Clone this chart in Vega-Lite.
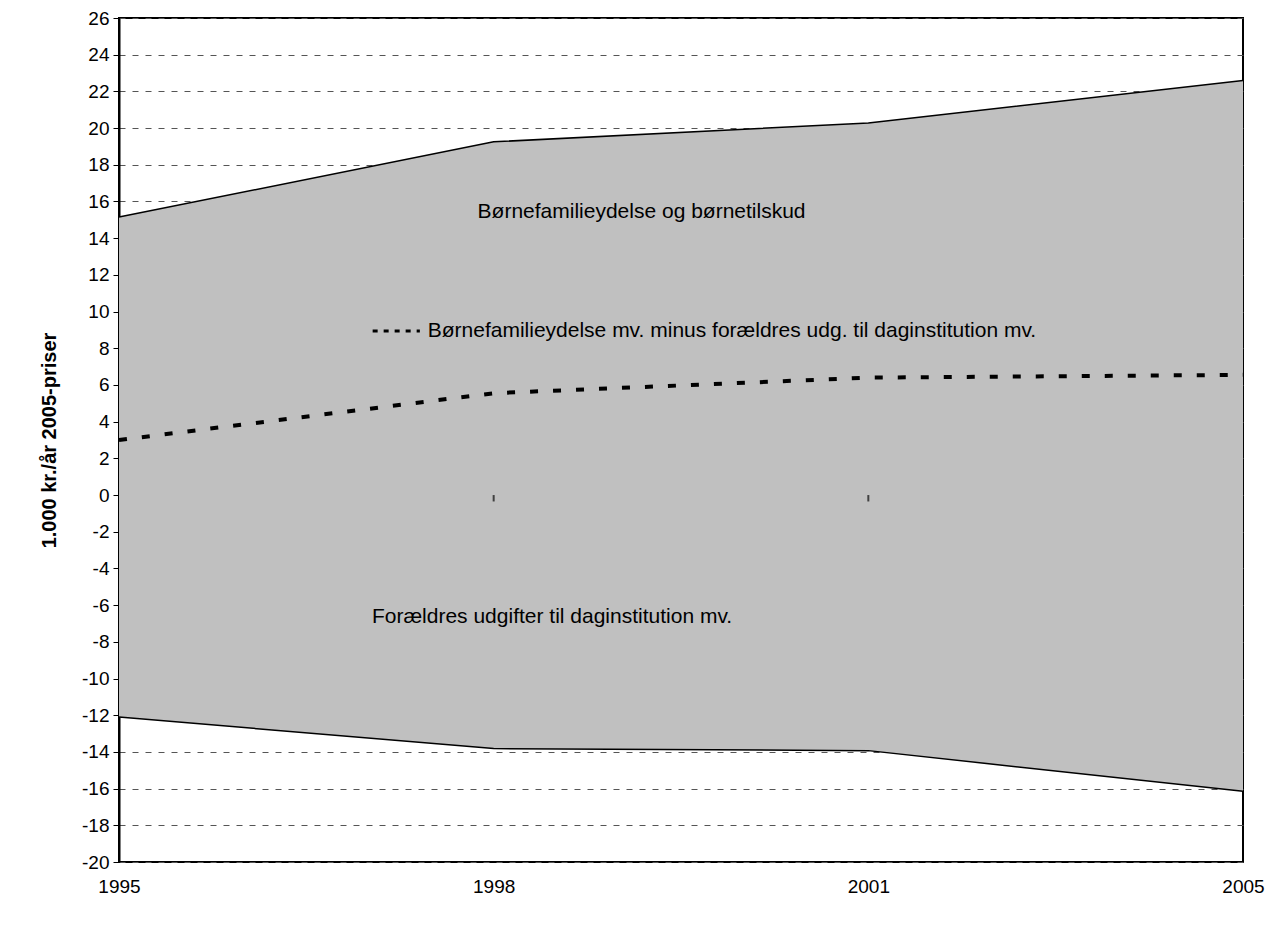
{
  "$schema": "https://vega.github.io/schema/vega-lite/v6.json",
  "autosize": "none",
  "width": 1124,
  "height": 844,
  "padding": {"left": 119, "top": 18, "right": 25, "bottom": 65},
  "background": "white",
  "config": {
    "font": "Liberation Sans",
    "view": {"stroke": "black", "strokeWidth": 2}
  },
  "datasets": {
    "series": [
      {"idx": 0, "year": "1995", "upper": 15.15, "lower": -12.1, "net": 3.0},
      {"idx": 1, "year": "1998", "upper": 19.25, "lower": -13.82, "net": 5.55},
      {"idx": 2, "year": "2001", "upper": 20.28, "lower": -13.93, "net": 6.4},
      {"idx": 3, "year": "2005", "upper": 22.6, "lower": -16.15, "net": 6.55}
    ],
    "labels": [
      {"x": 0.957, "y": 15.4, "text": "Børnefamilieydelse og børnetilskud"},
      {"x": 0.824, "y": 8.94, "text": "Børnefamilieydelse mv. minus forældres udg. til daginstitution mv."},
      {"x": 0.675, "y": -6.65, "text": "Forældres udgifter til daginstitution mv."}
    ],
    "legendDash": [
      {"x": 0.677, "y": 8.94},
      {"x": 0.803, "y": 8.94}
    ],
    "zeroTicks": [
      {"x": 1, "y": 0, "y2": -0.35},
      {"x": 2, "y": 0, "y2": -0.35}
    ]
  },
  "layer": [
    {
      "data": {"name": "series"},
      "mark": {"type": "area", "color": "#C0C0C0", "opacity": 1},
      "encoding": {
        "x": {
          "field": "idx", "type": "quantitative",
          "scale": {"domain": [0, 3], "nice": false, "zero": false},
          "axis": {
            "values": [0, 1, 2, 3],
            "tickCount": 10,
            "labelExpr": "['1995','1998','2001','2005'][datum.value]",
            "title": null, "grid": false, "domain": false, "ticks": false,
            "labelFontSize": 19, "labelColor": "black", "labelPadding": 15,
            "labelFlush": false, "labelOverlap": false
          }
        },
        "y": {
          "field": "upper", "type": "quantitative",
          "scale": {"domain": [-20, 26], "nice": false, "zero": false},
          "axis": {
            "values": [-20, -18, -16, -14, -12, -10, -8, -6, -4, -2, 0, 2, 4, 6, 8, 10, 12, 14, 16, 18, 20, 22, 24, 26],
            "tickCount": 40,
            "labelExpr": "'' + datum.value",
            "labelOverlap": false,
            "title": "1.000 kr./år 2005-priser",
            "titleFontSize": 20, "titleFontWeight": "bold", "titleColor": "black",
            "titlePadding": 22,
            "labelFontSize": 19, "labelColor": "black", "labelPadding": 4,
            "tickColor": "black", "tickSize": 6, "tickWidth": 1,
            "domainColor": "black", "domainWidth": 2,
            "grid": true, "gridColor": "#555555", "gridDash": [6, 7], "gridWidth": 1,
            "zindex": 0
          }
        },
        "y2": {"field": "lower"}
      }
    },
    {
      "data": {"name": "series"},
      "mark": {"type": "line", "color": "black", "strokeWidth": 1.5},
      "encoding": {
        "x": {"field": "idx", "type": "quantitative"},
        "y": {"field": "upper", "type": "quantitative"}
      }
    },
    {
      "data": {"name": "series"},
      "mark": {"type": "line", "color": "black", "strokeWidth": 1.5},
      "encoding": {
        "x": {"field": "idx", "type": "quantitative"},
        "y": {"field": "lower", "type": "quantitative"}
      }
    },
    {
      "mark": {"type": "rule", "color": "#404040", "strokeWidth": 1.5},
      "encoding": {"y": {"datum": 0}}
    },
    {
      "data": {"name": "zeroTicks"},
      "mark": {"type": "rule", "color": "#404040", "strokeWidth": 2},
      "encoding": {
        "x": {"field": "x", "type": "quantitative"},
        "y": {"field": "y", "type": "quantitative"},
        "y2": {"field": "y2"}
      }
    },
    {
      "data": {"name": "series"},
      "mark": {"type": "line", "color": "black", "strokeWidth": 4, "strokeDash": [8, 15]},
      "encoding": {
        "x": {"field": "idx", "type": "quantitative"},
        "y": {"field": "net", "type": "quantitative"}
      }
    },
    {
      "data": {"name": "legendDash"},
      "mark": {"type": "line", "color": "black", "strokeWidth": 3, "strokeDash": [5, 6]},
      "encoding": {
        "x": {"field": "x", "type": "quantitative"},
        "y": {"field": "y", "type": "quantitative"}
      }
    },
    {
      "data": {"name": "labels"},
      "mark": {"type": "text", "align": "left", "baseline": "middle", "fontSize": 21, "color": "black"},
      "encoding": {
        "x": {"field": "x", "type": "quantitative"},
        "y": {"field": "y", "type": "quantitative"},
        "text": {"field": "text"}
      }
    }
  ]
}
